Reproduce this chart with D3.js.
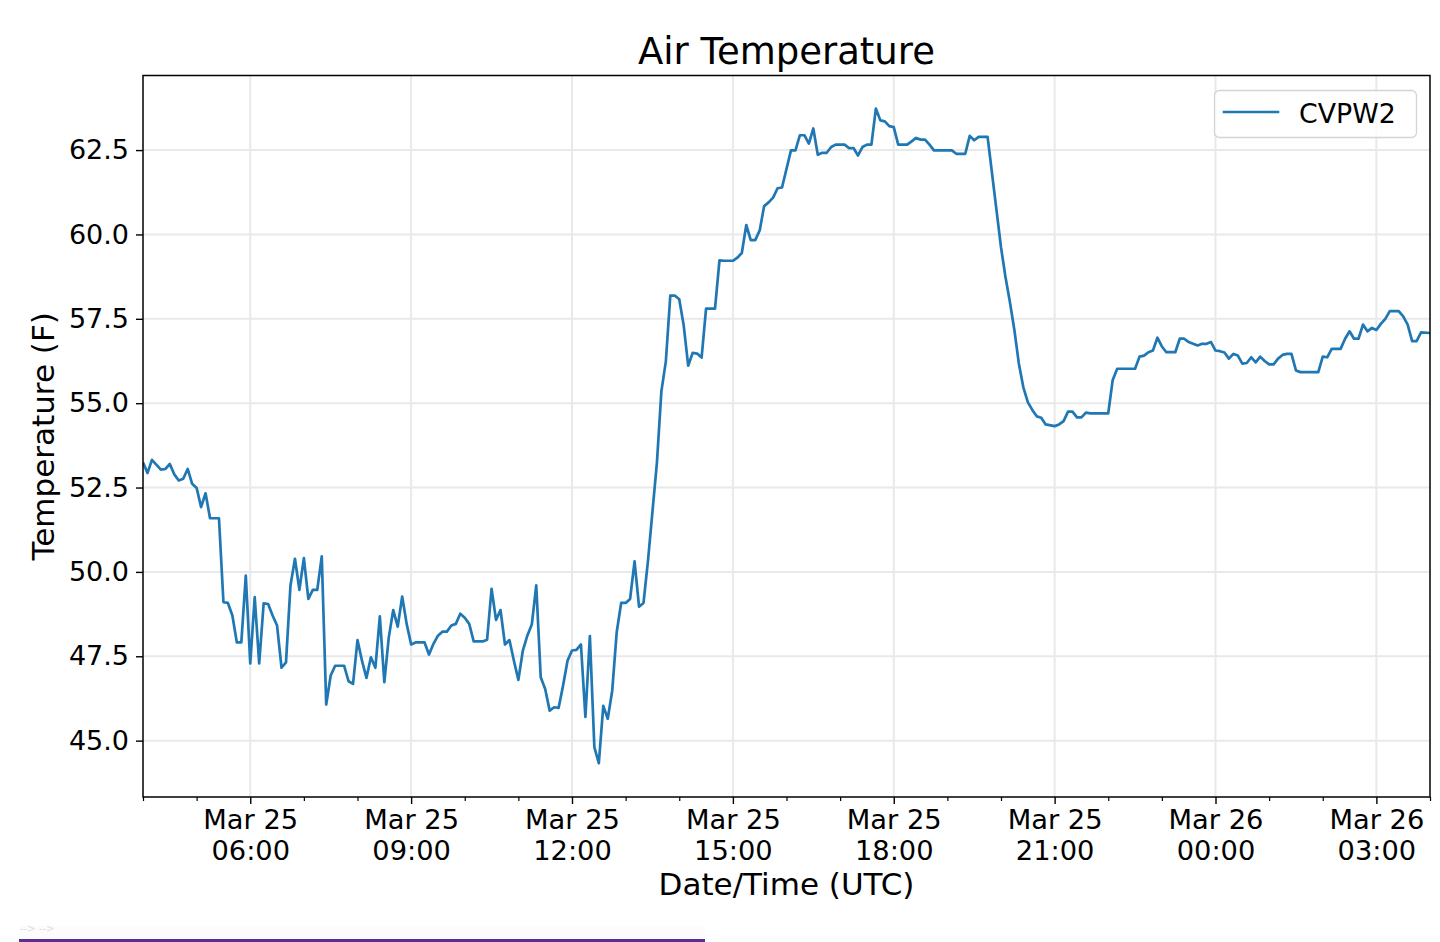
<!DOCTYPE html>
<html>
<head>
<meta charset="utf-8">
<script src="https://cdn.jsdelivr.net/npm/d3@7"></script>
<style>
  html, body { margin: 0; padding: 0; background: #fff; }
  svg { display: block; font-family: "DejaVu Sans", sans-serif; }
</style>
</head>
<body>
<svg id="chart" width="1440" height="942"></svg>
<script>
// ---- data ----
const seriesName = "CVPW2";
const chartTitle = "Air Temperature";
const xLabel = "Date/Time (UTC)";
const yLabel = "Temperature (F)";
const yTickValues = [45.0, 47.5, 50.0, 52.5, 55.0, 57.5, 60.0, 62.5];
const xDomain = ["03-25 04:00", "03-26 04:00"];
const yDomain = [43.33, 64.71];

const times = [
  "03-25 04:00","03-25 04:05","03-25 04:10","03-25 04:20","03-25 04:25","03-25 04:30","03-25 04:35","03-25 04:40","03-25 04:45","03-25 04:50","03-25 04:55",
  "03-25 05:00","03-25 05:05","03-25 05:10","03-25 05:15","03-25 05:25","03-25 05:30","03-25 05:35","03-25 05:40","03-25 05:45","03-25 05:50","03-25 05:55",
  "03-25 06:00","03-25 06:05","03-25 06:10","03-25 06:15","03-25 06:20","03-25 06:25","03-25 06:30","03-25 06:35","03-25 06:40","03-25 06:45","03-25 06:50","03-25 06:55",
  "03-25 07:00","03-25 07:05","03-25 07:10","03-25 07:15","03-25 07:20","03-25 07:25","03-25 07:30","03-25 07:35","03-25 07:45","03-25 07:50","03-25 07:55",
  "03-25 08:00","03-25 08:05","03-25 08:10","03-25 08:15","03-25 08:20","03-25 08:25","03-25 08:30","03-25 08:35","03-25 08:40","03-25 08:45","03-25 08:50","03-25 08:55",
  "03-25 09:00","03-25 09:05","03-25 09:15","03-25 09:20","03-25 09:25","03-25 09:30","03-25 09:35","03-25 09:40","03-25 09:45","03-25 09:50","03-25 09:55",
  "03-25 10:00","03-25 10:05","03-25 10:10","03-25 10:20","03-25 10:25","03-25 10:30","03-25 10:35","03-25 10:40","03-25 10:45","03-25 10:50","03-25 10:55",
  "03-25 11:00","03-25 11:05","03-25 11:10","03-25 11:15","03-25 11:20","03-25 11:25","03-25 11:30","03-25 11:35","03-25 11:40","03-25 11:45","03-25 11:50","03-25 11:55",
  "03-25 12:00","03-25 12:05","03-25 12:10","03-25 12:15","03-25 12:20","03-25 12:25","03-25 12:30","03-25 12:35","03-25 12:40","03-25 12:45","03-25 12:50","03-25 12:55",
  "03-25 13:00","03-25 13:05","03-25 13:10","03-25 13:15","03-25 13:20","03-25 13:25","03-25 13:30","03-25 13:35","03-25 13:40","03-25 13:45","03-25 13:50","03-25 13:55",
  "03-25 14:00","03-25 14:05","03-25 14:10","03-25 14:15","03-25 14:20","03-25 14:25","03-25 14:30","03-25 14:40","03-25 14:45","03-25 14:50",
  "03-25 15:00","03-25 15:05","03-25 15:10","03-25 15:15","03-25 15:20","03-25 15:25","03-25 15:30","03-25 15:35","03-25 15:40","03-25 15:45","03-25 15:50","03-25 15:55",
  "03-25 16:05","03-25 16:10","03-25 16:15","03-25 16:20","03-25 16:25","03-25 16:30","03-25 16:35","03-25 16:40","03-25 16:45","03-25 16:50","03-25 16:55",
  "03-25 17:05","03-25 17:10","03-25 17:15","03-25 17:20","03-25 17:25","03-25 17:30","03-25 17:35","03-25 17:40","03-25 17:45","03-25 17:50","03-25 17:55",
  "03-25 18:00","03-25 18:05","03-25 18:15","03-25 18:20","03-25 18:25","03-25 18:30","03-25 18:35","03-25 18:40","03-25 18:45",
  "03-25 19:05","03-25 19:10","03-25 19:20","03-25 19:25","03-25 19:30","03-25 19:35","03-25 19:45",
  "03-25 20:00","03-25 20:05","03-25 20:10","03-25 20:15","03-25 20:20","03-25 20:25","03-25 20:30","03-25 20:35","03-25 20:40","03-25 20:45","03-25 20:50",
  "03-25 21:00","03-25 21:05","03-25 21:10","03-25 21:15","03-25 21:20","03-25 21:25","03-25 21:30","03-25 21:35","03-25 21:40",
  "03-25 22:00","03-25 22:05","03-25 22:10","03-25 22:30","03-25 22:35","03-25 22:40","03-25 22:45","03-25 22:50","03-25 22:55",
  "03-25 23:00","03-25 23:05","03-25 23:15","03-25 23:20","03-25 23:25","03-25 23:30","03-25 23:35","03-25 23:40","03-25 23:45","03-25 23:50","03-25 23:55",
  "03-26 00:00","03-26 00:05","03-26 00:10","03-26 00:15","03-26 00:20","03-26 00:25","03-26 00:30","03-26 00:35","03-26 00:40","03-26 00:45","03-26 00:50","03-26 00:55",
  "03-26 01:00","03-26 01:05","03-26 01:10","03-26 01:15","03-26 01:20","03-26 01:25","03-26 01:30","03-26 01:35","03-26 01:55",
  "03-26 02:00","03-26 02:05","03-26 02:10","03-26 02:20","03-26 02:25","03-26 02:30","03-26 02:35","03-26 02:40","03-26 02:45","03-26 02:50","03-26 02:55",
  "03-26 03:00","03-26 03:05","03-26 03:10","03-26 03:15","03-26 03:25","03-26 03:30","03-26 03:35","03-26 03:40","03-26 03:45","03-26 03:50",
  "03-26 04:00"
];

const temps = [
  53.25,52.93,53.32,53.03,53.05,53.20,52.89,52.71,52.76,53.05,52.61,
  52.49,51.92,52.33,51.59,51.59,49.10,49.08,48.71,47.91,47.91,49.89,
  47.29,49.25,47.29,49.07,49.05,48.71,48.41,47.16,47.32,49.60,50.39,49.47,
  50.41,49.20,49.47,49.47,50.46,46.07,46.93,47.22,47.22,46.76,46.68,
  47.98,47.37,46.86,47.47,47.16,48.68,46.73,48.06,48.87,48.38,49.27,48.46,
  47.85,47.91,47.91,47.55,47.87,48.11,48.23,48.23,48.41,48.46,48.76,
  48.64,48.46,47.94,47.94,47.99,49.50,48.58,48.87,47.85,47.98,47.37,
  46.80,47.67,48.11,48.44,49.60,46.88,46.53,45.89,45.99,45.97,46.63,47.37,
  47.67,47.69,47.85,45.70,48.10,44.81,44.33,46.03,45.65,46.48,48.21,49.08,
  49.08,49.20,50.31,48.97,49.08,50.33,51.78,53.23,55.35,56.24,58.19,58.19,
  58.08,57.30,56.11,56.49,56.47,56.35,57.80,57.80,59.23,59.22,
  59.22,59.31,59.45,60.28,59.83,59.83,60.12,60.84,60.95,61.09,61.37,61.39,
  62.49,62.49,62.94,62.94,62.69,63.14,62.36,62.42,62.42,62.59,62.66,
  62.66,62.56,62.56,62.34,62.59,62.66,62.66,63.73,63.38,63.35,63.21,
  63.18,62.66,62.66,62.76,62.86,62.81,62.81,62.66,62.49,
  62.49,62.39,62.39,62.92,62.79,62.89,62.89,
  59.62,58.74,57.99,57.16,56.17,55.47,55.03,54.80,54.61,54.57,54.37,
  54.32,54.37,54.47,54.75,54.75,54.58,54.58,54.72,54.70,
  54.70,55.69,56.02,56.02,56.38,56.41,56.51,56.56,56.94,
  56.68,56.51,56.51,56.91,56.91,56.81,56.76,56.71,56.76,56.76,56.81,
  56.56,56.54,56.50,56.32,56.46,56.41,56.17,56.19,56.36,56.21,56.38,56.25,
  56.15,56.15,56.32,56.43,56.46,56.46,55.97,55.92,55.92,
  56.38,56.36,56.61,56.61,56.91,57.13,56.91,56.91,57.33,57.13,57.23,
  57.17,57.35,57.50,57.73,57.73,57.57,57.33,56.84,56.84,57.10,
  57.08
];

// ---- drawing ----
const parse = d3.utcParse("%m-%d %H:%M");
const data = times.map((t, i) => ({ t: parse(t), v: temps[i] }));

const L = 143, R = 1430, T = 75.5, B = 797;
const svg = d3.select("#chart");
svg.append("rect").attr("width", 1440).attr("height", 942).attr("fill", "#fff");

const x = d3.scaleUtc().domain(xDomain.map(parse)).range([L, R]);
const y = d3.scaleLinear().domain(yDomain).range([B, T]);

const majorTicks = d3.utcHour.every(3).range(x.domain()[0], +x.domain()[1] + 1).filter(d => d >= x.domain()[0]);
const allHours = d3.utcHour.every(1).range(x.domain()[0], +x.domain()[1] + 1);
const minorTicks = allHours.filter(d => d.getUTCHours() % 3 !== 0);

// grid
const grid = svg.append("g");
grid.selectAll(".hg").data(yTickValues).join("line")
  .attr("x1", L).attr("x2", R)
  .attr("y1", d => y(d)).attr("y2", d => y(d))
  .attr("stroke", "#e9e9e9").attr("stroke-width", 2);
grid.selectAll(".vg").data(majorTicks).join("line")
  .attr("x1", d => x(d)).attr("x2", d => x(d))
  .attr("y1", T).attr("y2", B)
  .attr("stroke", "#e9e9e9").attr("stroke-width", 2);

// line
const clipId = "plotclip";
svg.append("clipPath").attr("id", clipId).append("rect")
  .attr("x", L).attr("y", T).attr("width", R - L).attr("height", B - T);
svg.append("path")
  .datum(data)
  .attr("clip-path", `url(#${clipId})`)
  .attr("fill", "none")
  .attr("stroke", "#1f77b4")
  .attr("stroke-width", 2.7)
  .attr("stroke-linejoin", "round")
  .attr("stroke-linecap", "butt")
  .attr("d", d3.line().x(d => x(d.t)).y(d => y(d.v)));

// spines
svg.append("rect")
  .attr("x", L).attr("y", T).attr("width", R - L).attr("height", B - T)
  .attr("fill", "none").attr("stroke", "#000").attr("stroke-width", 1.5);

// x axis (major)
const fmtDay = d3.utcFormat("%b %d");
const fmtHour = d3.utcFormat("%H:%M");
const xAxis = svg.append("g").attr("transform", `translate(0,${B})`)
  .call(d3.axisBottom(x).tickValues(majorTicks).tickSize(7).tickFormat(""));
xAxis.select(".domain").remove();
xAxis.selectAll(".tick line").attr("stroke", "#000").attr("stroke-width", 1.4);
xAxis.selectAll(".tick").each(function(d) {
  const g = d3.select(this);
  g.select("text").remove();
  const t = g.append("text").attr("text-anchor", "middle").attr("fill", "#000")
    .attr("font-size", 27.3).attr("font-family", "DejaVu Sans, sans-serif");
  t.append("tspan").attr("x", 0).attr("y", 31.5).text(fmtDay(d));
  t.append("tspan").attr("x", 0).attr("y", 63).text(fmtHour(d));
});

// x axis (minor)
const xMinor = svg.append("g").attr("transform", `translate(0,${B})`)
  .call(d3.axisBottom(x).tickValues(minorTicks).tickSize(4).tickFormat(""));
xMinor.select(".domain").remove();
xMinor.selectAll(".tick line").attr("stroke", "#000").attr("stroke-width", 1.2);

// y axis
const yAxis = svg.append("g").attr("transform", `translate(${L},0)`)
  .call(d3.axisLeft(y).tickValues(yTickValues).tickSize(7).tickPadding(7).tickFormat(d3.format(".1f")));
yAxis.select(".domain").remove();
yAxis.selectAll(".tick line").attr("stroke", "#000").attr("stroke-width", 1.4);
yAxis.selectAll(".tick text").attr("font-size", 27).attr("fill", "#000")
  .attr("font-family", "DejaVu Sans, sans-serif");

// title & labels
svg.append("text").attr("x", (L + R) / 2).attr("y", 64)
  .attr("text-anchor", "middle").attr("font-size", 37).attr("fill", "#000").text(chartTitle);
svg.append("text").attr("x", (L + R) / 2).attr("y", 895)
  .attr("text-anchor", "middle").attr("font-size", 31).attr("fill", "#000").text(xLabel);
svg.append("text").attr("transform", `translate(54,${(T + B) / 2}) rotate(-90)`)
  .attr("text-anchor", "middle").attr("font-size", 31).attr("fill", "#000").text(yLabel);

// legend
const lg = svg.append("g");
lg.append("rect").attr("x", 1214.5).attr("y", 90.5).attr("width", 202).attr("height", 47)
  .attr("rx", 5).attr("fill", "#fff").attr("fill-opacity", 0.8)
  .attr("stroke", "#d4d4d4").attr("stroke-width", 1.3);
lg.append("line").attr("x1", 1222.7).attr("x2", 1279.3).attr("y1", 112).attr("y2", 112)
  .attr("stroke", "#1f77b4").attr("stroke-width", 2.7);
lg.append("text").attr("x", 1299).attr("y", 122.5).attr("font-size", 26.8).attr("fill", "#000").text(seriesName);

// page artifacts at bottom
svg.append("rect").attr("x", 19).attr("y", 926).attr("width", 686).attr("height", 13).attr("fill", "#fcfcfc");
svg.append("text").attr("x", 20).attr("y", 932).attr("font-size", 10).attr("fill", "#dcdcdc").text("--> -->");
svg.append("rect").attr("x", 19).attr("y", 939).attr("width", 686).attr("height", 3).attr("fill", "#5b2c94");
</script>
</body>
</html>
